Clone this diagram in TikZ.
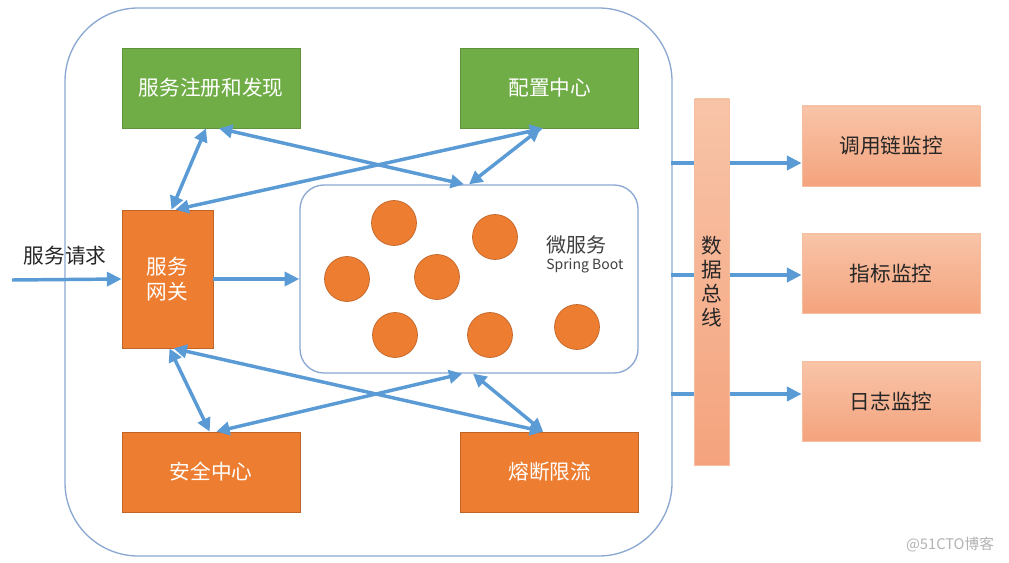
\documentclass[tikz,border=0pt]{standalone}
\usepackage{fontspec}
\setmainfont{Noto Sans CJK SC}
\usetikzlibrary{positioning,arrows.meta}
\definecolor{sgreen}{HTML}{70AD47}
\definecolor{sorange}{HTML}{ED7D31}
\definecolor{sblue}{HTML}{5B9BD5}
\definecolor{sframe}{HTML}{8AA8D2}
\definecolor{stop}{HTML}{F8C4A8}
\definecolor{sbottom}{HTML}{F4A37D}

\begin{document}
\begin{tikzpicture}[x=0.75pt,y=-0.75pt,
	gnode/.style={rectangle,draw=sgreen!85!black,line width=0.6pt,fill=sgreen,text=white,minimum width=133.5pt,minimum height=60pt,font=\fontsize{15.5}{18.75}\selectfont},
	onode/.style={gnode,draw=sorange!80!black,fill=sorange},
	mnode/.style={rectangle,draw=stop!80!sbottom,line width=0.6pt,top color=stop,bottom color=sbottom,text=black!85,minimum width=133.5pt,minimum height=60pt,font=\fontsize{15.5}{18}\selectfont},
	svc/.style={circle,draw=sorange!80!black,line width=0.5pt,fill=sorange,minimum size=33.75pt,inner sep=0pt},
	frame/.style={rectangle,draw=sframe,line width=1pt},
	link/.style={sblue,line width=2.6pt,{Triangle[length=10pt,width=10pt]}-{Triangle[length=10pt,width=10pt]}},
	flow/.style={sblue,line width=3pt,-{Triangle[length=11pt,width=10.5pt]}},
	node distance=35.25pt]
	\useasboundingbox (0,0) rectangle (1009,563);
	\node[frame,rounded corners=55pt,minimum width=455.25pt,minimum height=411pt] (outer) at (368.5,282) {};
	\node[gnode] (reg) at (211,88) {服务注册和发现};
	\node[gnode] (conf)[right=120pt of reg]{配置中心};
	\node[onode,minimum width=68.25pt,minimum height=103.5pt,align=center] (gw) at (167.5,279) {服务\\网关};
	\node[onode] (sec) at (211,472) {安全中心};
	\node[onode] (fuse)[right=120pt of sec]{熔断限流};
	\node[frame,fill=white,rounded corners=18pt,minimum width=253.5pt,minimum height=141pt] (micro) at (469,279) {};
	\node[svc] (s1) at (394,223) {};
	\node[svc] (s2) at (495,237) {};
	\node[svc] (s3) at (347,279) {};
	\node[svc] (s4) at (437,277) {};
	\node[svc] (s5) at (395,335) {};
	\node[svc] (s6) at (490,335) {};
	\node[svc] (s7) at (577,327) {};
	\node[anchor=west,text=black!75,font=\fontsize{15}{18}\selectfont,inner sep=0pt] (mslabel) at (546,245) {微服务};
	\node[anchor=west,text=black!75,font=\fontsize{10.5}{12}\selectfont,inner sep=0pt] (sblabel) at (546,266) {Spring Boot};
	\node[mnode,minimum width=26.25pt,minimum height=274.5pt,align=center,inner sep=0pt] (bus) at (712,282) {数\\据\\总\\线};
	\node[mnode] (mon1) at (891,146) {调用链监控};
	\node[mnode] (mon2)[below=of mon1]{指标监控};
	\node[mnode] (mon3)[below=of mon2]{日志监控};
	\node[text=black!85,font=\fontsize{15.5}{18}\selectfont] (reqlabel) at (65,256) {服务请求};
	\node[text=black!30,font=\fontsize{11}{13}\selectfont] (mark) at (950,545) {@51CTO博客};
	\coordinate (req) at (12,280);
	\coordinate (t1) at (671,163);
	\coordinate (t2) at (671,275);
	\coordinate (t3) at (671,394);
	\draw[flow,line width=2.6pt] (req) -- (gw.west);
	\draw[flow,line width=2.6pt] (gw.east) -- (micro.west);
	\draw[link] ([xshift=-3.75pt]reg.south) -- ([xshift=3pt]gw.north);
	\draw[link] ([xshift=6pt]reg.south) -- ([xshift=-3.75pt]micro.north);
	\draw[link] ([xshift=-5pt]conf.south) -- ([xshift=6pt]gw.north);
	\draw[link] ([xshift=-7pt]conf.south) -- (micro.north);
	\draw[link] ([xshift=1.5pt]gw.south) -- ([xshift=-1pt]sec.north);
	\draw[link] ([xshift=4.5pt]gw.south) -- ([xshift=-5pt]fuse.north);
	\draw[link] ([xshift=-5pt]micro.south) -- ([xshift=4pt]sec.north);
	\draw[link] ([xshift=3pt]micro.south) -- ([xshift=-5pt]fuse.north);
	\draw[sblue,line width=3pt] (t1) -- (t1 -| bus.west);
	\draw[sblue,line width=3pt] (t2) -- (t2 -| bus.west);
	\draw[sblue,line width=3pt] (t3) -- (t3 -| bus.west);
	\draw[flow] (t1 -| bus.east) -- (t1 -| mon1.west);
	\draw[flow] (t2 -| bus.east) -- (t2 -| mon2.west);
	\draw[flow] (t3 -| bus.east) -- (t3 -| mon3.west);
\end{tikzpicture}
\end{document}
